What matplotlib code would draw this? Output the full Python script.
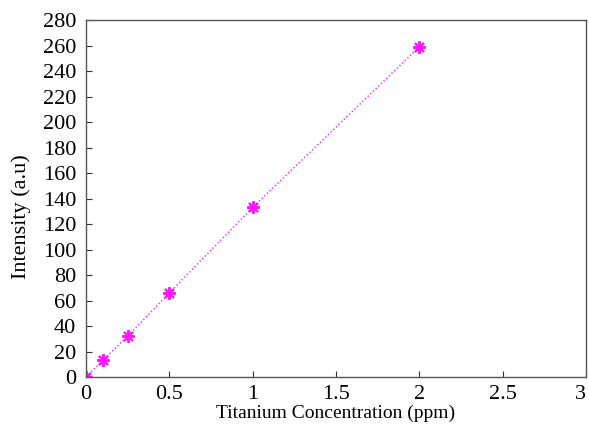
import matplotlib
matplotlib.use("Agg")
import matplotlib.pyplot as plt

conc = [0, 0.1, 0.25, 0.5, 1, 2]
intensity = [0, 13, 32, 66, 133, 259]
xticks = [0, 0.5, 1, 1.5, 2, 2.5, 3]
xticklabels = ["0", "0.5", "1", "1.5", "2", "2.5", "3"]
yticks = list(range(0, 281, 20))

plt.rcParams['font.family'] = ['Liberation Serif', 'DejaVu Serif']
fig = plt.figure(figsize=(5.89, 4.26), dpi=100)
ax = fig.add_axes([0.146, 0.115, 0.849, 0.838])
ax.plot(conc, intensity, color='#ff00ff', linestyle=':', linewidth=1.0,
        marker=(8, 2, 0), markersize=9, markeredgewidth=1.5, alpha=0.9)
ax.set_xlim(0, 3)
ax.set_ylim(0, 280)
ax.set_xticks(xticks)
ax.set_xticklabels(xticklabels)
ax.set_yticks(yticks)
ax.tick_params(direction='in', labelsize=16, length=4, width=0.8, colors='#333333', labelcolor='black')
ax.tick_params(axis='y', pad=7)
ax.tick_params(axis='x', pad=6)
ax.get_xticklabels()[-1].set_ha('right')
for s in ax.spines.values():
    s.set_color('#555555')
    s.set_linewidth(1.0)
ax.set_xlabel('Titanium Concentration (ppm)', fontsize=14, labelpad=0)
ax.set_ylabel('Intensity (a.u)', fontsize=16)
ax.yaxis.set_label_coords(-0.11, 0.45)
fig.savefig('out.png', dpi=100)
